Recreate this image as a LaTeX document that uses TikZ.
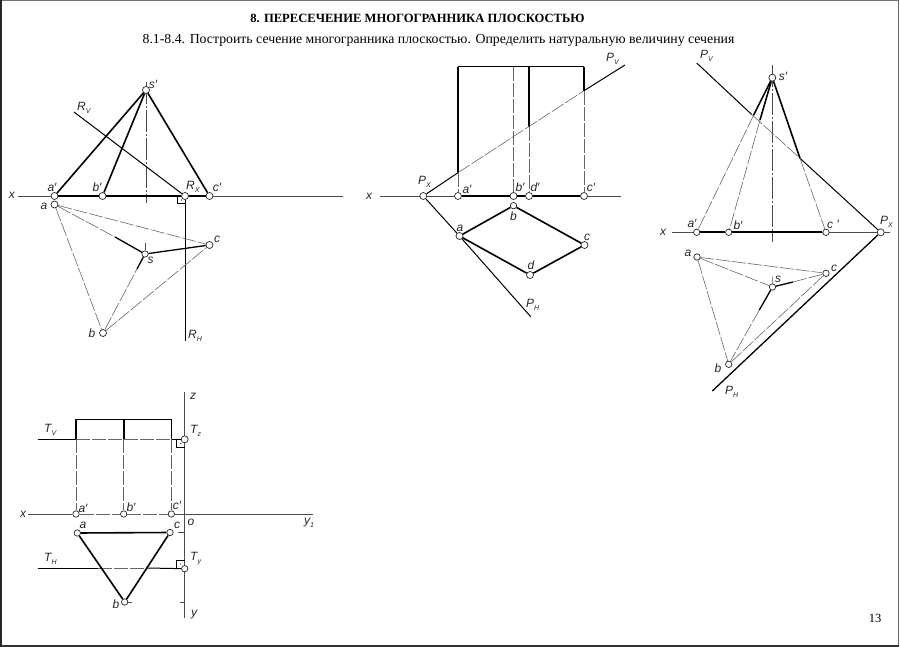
\documentclass[tikz,border=0pt]{standalone}
\usepackage{fontspec}
\setmainfont{Liberation Serif}
\setsansfont{Liberation Sans}
\newcommand\lowsub[1]{\raisebox{-3pt}{\fontsize{7}{7}\selectfont #1}}
\begin{document}
\begin{tikzpicture}[x=1pt,y=-1pt,
  pt/.style={circle,draw=black!85,fill=white,line width=.7pt,inner sep=0pt,minimum size=7pt},
  ptb/.style={pt,minimum size=6.4pt},
  thinl/.style={line width=.6pt,draw=black!70},
  mid/.style={line width=1pt,draw=black},
  thick1/.style={line width=1.6pt,draw=black},
  thick2/.style={line width=1.3pt,draw=black},
  dash1/.style={line width=.6pt,draw=black!60,dash pattern=on 14pt off 2pt},
  axisl/.style={line width=.6pt,draw=black!70,dash pattern=on 22pt off 2pt on 2pt off 2pt},
  lb/.style={font=\sffamily\itshape\fontsize{12}{12}\selectfont,inner sep=0pt,text=black!85},
  lbw/.style={lb,anchor=west}]
\useasboundingbox (0,0) rectangle (900,647);
\draw[line width=1pt,draw=black!55] (1,0.5) -- (899,0.5);
\draw[line width=1.2pt,draw=black!85] (1,0) -- (1,647);
\draw[line width=1pt,draw=black!60] (898.5,0) -- (898.5,647);
\draw[line width=1.2pt,draw=black!80] (1,646) -- (898.5,646);
\node[font=\bfseries\fontsize{12.6}{12.6}\selectfont,inner sep=0pt] (title) at (417.5,18.5) {8. ПЕРЕСЕЧЕНИЕ МНОГОГРАННИКА ПЛОСКОСТЬЮ};
\node[font=\fontsize{13.8}{13.8}\selectfont,inner sep=0pt] (sub) at (438.5,40.5) {8.1-8.4. Построить сечение многогранника плоскостью. Определить натуральную величину сечения};
\node[font=\fontsize{12.5}{12.5}\selectfont,inner sep=0pt] (pg) at (875,618) {13};

% ---------- Figure 1
\coordinate (Ax1) at (18,196); \coordinate (Ax1e) at (343,196);
\coordinate (Rv) at (74,112); \coordinate (Rh) at (185,341);
\coordinate (S1t) at (146,82); \coordinate (S1b) at (146,203);
\coordinate (s1t) at (145,243);
\coordinate (Sa1) at (115,237); \coordinate (Sb1) at (137,269);
\draw[thinl] (Ax1) -- (Ax1e);
\draw[axisl] (S1t) -- (S1b);
\node[pt] (As) at (54.5,196) {};
\node[pt] (Bs) at (102.5,196) {};
\node[pt] (Rx) at (185,196) {};
\node[pt] (Cs) at (209.5,196) {};
\node[pt] (Ss) at (146,90) {};
\node[pt] (A) at (54.5,204.5) {};
\node[pt] (B) at (103,333) {};
\node[pt] (C) at (209.5,245) {};
\node[ptb] (S) at (145,254) {};
\draw[thinl] (s1t) -- (S);
\draw[thick1] (As) -- (Bs); \draw[thick1] (Bs) -- (Rx); \draw[thick1] (Rx) -- (Cs);
\draw[thick1] (As) -- (Ss); \draw[thick1] (Bs) -- (Ss); \draw[thick1] (Cs) -- (Ss);
\draw[mid] (Rv) -- (Rx);
\draw[line width=.9pt] (Rx) -- (Rh);
\draw[line width=.7pt] (177.5,196.5) -- (177.5,203.5) -- (185,203.5);
\fill (181.5,200) circle (.6pt);
\draw[dash1] (A) -- (C); \draw[dash1] (A) -- (B);
\draw[dash1] (B) -- (C); \draw[dash1] (A) -- (Sa1);
\draw[dash1] (B) -- (Sb1);
\draw[thick2] (Sa1) -- (S);
\draw[thick2] (Sb1) -- (S);
\draw[thick2] (S) -- (C);
\node[lb] (l1) at (12,195) {x};
\node[lb] (l2) at (52,187) {a′};
\node[lb] (l3) at (97,187) {b′};
\node[lbw] (l4) at (186,187) {R\lowsub{X}};
\node[lb] (l5) at (217,187) {c′};
\node[lb] (l6) at (44,206) {a};
\node[lb] (l7) at (217,239) {c};
\node[lb] (l8) at (150.5,260) {s};
\node[lb] (l9) at (92,333) {b};
\node[lb] (l10) at (153,84) {s′};
\node[lbw] (l11) at (77,108) {R\lowsub{V}};
\node[lbw] (l12) at (188,336) {R\lowsub{H}};

% ---------- Figure 2
\coordinate (Ax2) at (380,196); \coordinate (Ax2e) at (621,196);
\coordinate (Pv2) at (625,65); \coordinate (Ph2) at (530.7,316.7);
\coordinate (Ia) at (458,172.7);
\coordinate (Id) at (529,126.7); \coordinate (Ic) at (584,90.7);
\coordinate (Ta) at (458,66.7); \coordinate (Tb) at (513.5,66.7);
\coordinate (Td) at (529,66.7); \coordinate (Tc) at (584,66.7);
\draw[thinl] (Ax2) -- (Ax2e);
\node[pt] (Px2) at (423.3,196) {};
\node[pt] (A2s) at (458,196) {};
\node[pt] (B2s) at (513.5,196) {};
\node[pt] (D2s) at (529,196) {};
\node[pt] (C2s) at (584,196) {};
\node[pt] (A2) at (459.5,236) {};
\node[ptb] (B2) at (513.5,205.7) {};
\node[pt] (C2) at (584.5,245) {};
\node[pt] (D2) at (530,275) {};
\draw[thick1] (Ta) -- (Tc);
\draw[thick1] (Ta) -- (Ia);
\draw[thick1] (Td) -- (Id);
\draw[thick1] (Tc) -- (Ic);
\draw[dash1] (Ia) -- (A2s); \draw[dash1] (Tb) -- (B2s);
\draw[dash1] (Id) -- (D2s); \draw[dash1] (Ic) -- (C2s);
\draw[thick1] (A2s) -- (B2s); \draw[thick1] (B2s) -- (D2s); \draw[thick1] (D2s) -- (C2s);
\draw[mid] (Px2) -- (Ia);
\draw[dash1] (Ia) -- (Ic);
\draw[mid] (Ic) -- (Pv2);
\draw[mid] (Px2) -- (A2); \draw[mid] (A2) -- (Ph2);
\draw[thick1] (A2) -- (B2); \draw[thick1] (B2) -- (C2);
\draw[thick1] (C2) -- (D2); \draw[thick1] (D2) -- (A2);
\node[lb] (m1) at (369,196) {x};
\node[lbw] (q1) at (418,182) {P\lowsub{X}};
\node[lb] (m2) at (467,189) {a′};
\node[lb] (m3) at (520,187) {b′};
\node[lb] (m4) at (535,187) {d′};
\node[lb] (m5) at (591,187) {c′};
\node[lb] (m6) at (513.5,216) {b};
\node[lb] (m7) at (460,228) {a};
\node[lb] (m8) at (587,237) {c};
\node[lb] (m9) at (531,265) {d};
\node[lbw] (q2) at (606,59) {P\lowsub{V}};
\node[lbw] (q3) at (526,305) {P\lowsub{H}};

% ---------- Figure 3
\coordinate (Ax3) at (672,232.3); \coordinate (Ax3e) at (890,232.3);
\coordinate (Pv3) at (696.7,63); \coordinate (Ph3) at (712.3,391);
\coordinate (J1) at (751.7,114.5); \coordinate (J2) at (800,158.3);
\coordinate (Ka) at (753.7,115); \coordinate (Kb) at (760,120);
\coordinate (Sc) at (793,282); \coordinate (Sb) at (759.3,310);
\coordinate (St3) at (772.3,65); \coordinate (Sd3) at (772.3,242);
\coordinate (St4) at (772.3,276.7);
\draw[thinl] (Ax3) -- (Ax3e);
\draw[axisl] (St3) -- (Sd3);
\node[pt] (Ss3) at (772.3,77.7) {};
\node[ptb] (A3s) at (696.7,232.3) {};
\node[ptb] (B3s) at (728.7,232.3) {};
\node[ptb] (C3s) at (826,232.3) {};
\node[pt] (Px3) at (880.7,232.3) {};
\node[ptb] (A3) at (697,257) {};
\node[ptb] (C3) at (826,273.3) {};
\node[ptb] (S3) at (772.5,287) {};
\node[ptb] (B3) at (728.7,364.3) {};
\draw[thinl] (St4) -- (S3);
\draw[thick1] (A3s) -- (B3s); \draw[thick1] (B3s) -- (C3s);
\draw[mid] (Pv3) -- (J1); \draw[dash1] (J1) -- (J2); \draw[mid] (J2) -- (Px3);
\draw[thick2] (Px3) -- (Ph3);
\draw[thick1] (Ss3) -- (Ka); \draw[thick1] (Ss3) -- (Kb); \draw[thick1] (Ss3) -- (J2);
\draw[dash1] (Ka) -- (A3s); \draw[dash1] (Kb) -- (B3s); \draw[dash1] (J2) -- (C3s);
\draw[dash1] (A3) -- (C3); \draw[dash1] (A3) -- (B3);
\draw[dash1] (B3) -- (C3); \draw[dash1] (A3) -- (S3);
\draw[dash1] (Sc) -- (C3); \draw[dash1] (Sb) -- (B3);
\draw[thick2] (S3) -- (Sc);
\draw[thick2] (S3) -- (Sb);
\node[lb] (n1) at (663,232) {x};
\node[lb] (n2) at (692,223) {a′};
\node[lb] (n3) at (738,225) {b′};
\node[lb] (n4) at (833,224) {c ′};
\node[lb] (n5) at (783,76) {s′};
\node[lb] (n6) at (688,253) {a};
\node[lb] (n7) at (834,268) {c};
\node[lb] (n8) at (778,279) {s};
\node[lb] (n9) at (718,368) {b};
\node[lbw] (r1) at (700,56) {P\lowsub{V}};
\node[lbw] (r2) at (880,222) {P\lowsub{X}};
\node[lbw] (r3) at (725,392) {P\lowsub{H}};

% ---------- Figure 4
\coordinate (Tv) at (37.7,439.3); \coordinate (Th) at (37.7,568);
\coordinate (Zt) at (184.7,392); \coordinate (Zb) at (184.7,618);
\coordinate (X4) at (28,514); \coordinate (X4e) at (313,514);
\coordinate (Ua) at (76,439.3); \coordinate (Ub) at (123.7,439.3); \coordinate (Uc) at (171.3,439.3);
\coordinate (Va) at (76,419.3); \coordinate (Vb) at (123.7,419.3); \coordinate (Vc) at (171.3,419.3);
\coordinate (Hl) at (98.3,568); \coordinate (Hr) at (146.7,568);
\draw[thinl] (Zt) -- (Zb);
\node[pt] (T4z) at (184.7,439.3) {};
\node[ptb] (A4s) at (76,514) {};
\node[ptb] (B4s) at (123.7,514) {};
\node[ptb] (C4s) at (171.3,514) {};
\node[ptb] (A4) at (77.3,533) {};
\node[ptb] (C4) at (170,532.5) {};
\node[ptb] (B4) at (124.7,602) {};
\node[ptb] (T4y) at (184.7,568.7) {};
\draw[thinl] (X4) -- (A4s);
\draw[dash1] (A4s) -- (B4s); \draw[dash1] (B4s) -- (C4s);
\draw[thinl] (C4s) -- (X4e);
\draw[mid] (Tv) -- (Ua);
\draw[dash1] (Ua) -- (Uc);
\draw[mid] (Uc) -- (T4z);
\draw[thick1] (Ua) -- (Va) -- (Vc) -- (Uc);
\draw[thick1] (Vb) -- (Ub);
\draw[dash1] (Ua) -- (A4s); \draw[dash1] (Ub) -- (B4s); \draw[dash1] (Uc) -- (C4s);
\draw[mid] (Th) -- (Hl); \draw[dash1] (Hl) -- (Hr); \draw[mid] (Hr) -- (T4y);
\draw[line width=.7pt] (176.5,439.8) -- (176.5,447.5) -- (184.7,447.5);
\fill (180.7,443.5) circle (.6pt);
\draw[line width=.7pt] (176.5,568) -- (176.5,560) -- (184.7,560);
\fill (180.7,564) circle (.6pt);
\draw[thinl] (178,532.5) -- (184.7,532.5);
\draw[thinl] (180,602.3) -- (184.7,602.3);
\draw[thinl] (128,602) -- (132,602);
\draw[thick1] (A4) -- (C4); \draw[thick1] (A4) -- (B4); \draw[thick1] (C4) -- (B4);
\node[lb] (o1) at (193,396) {z};
\node[lb] (o2) at (23,514) {x};
\node[lb] (o3) at (83,508) {a′};
\node[lb] (o4) at (131,507) {b′};
\node[lb] (o5) at (177,505) {c′};
\node[lb] (o6) at (191,522) {o};
\node[lbw] (o7) at (304,523) {y\lowsub{1}};
\node[lb] (o8) at (83,525) {a};
\node[lb] (o9) at (177,525) {c};
\node[lb] (o10) at (116,604) {b};
\node[lb] (o11) at (194,615) {y};
\node[lbw] (o12) at (44,430) {T\lowsub{V}};
\node[lbw] (o13) at (44,559) {T\lowsub{H}};
\node[lbw] (o14) at (190,431) {T\lowsub{z}};
\node[lbw] (o15) at (190,559) {T\lowsub{y}};
\end{tikzpicture}
\end{document}
